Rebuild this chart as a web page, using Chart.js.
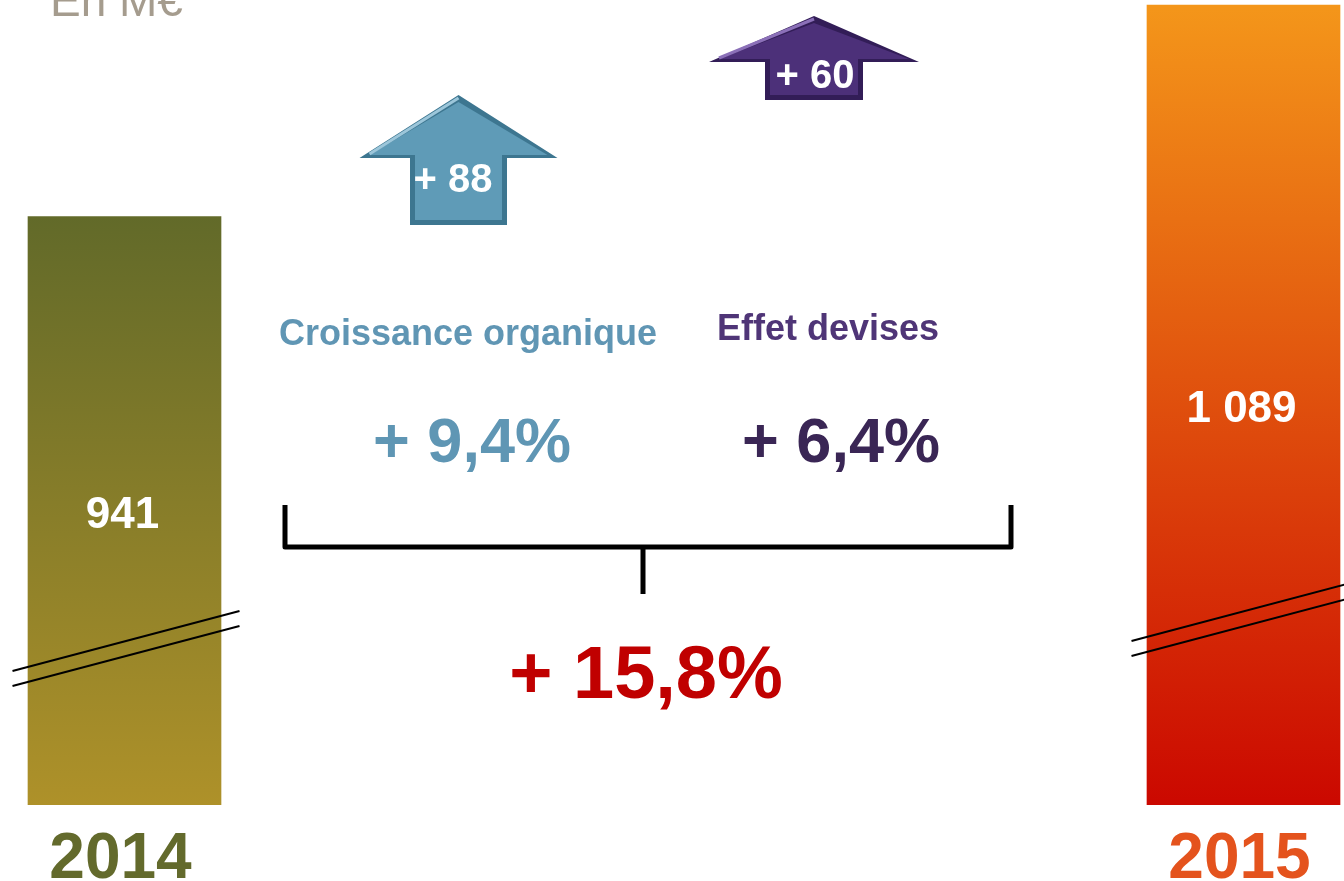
<!DOCTYPE html>
<html lang="fr">
<head>
<meta charset="utf-8">
<title>Chiffre d'affaires 2014 - 2015</title>
<script src="https://cdn.jsdelivr.net/npm/chart.js@4.4.1/dist/chart.umd.min.js"></script>
<style>
  html, body { margin: 0; padding: 0; background: #fff; overflow: hidden; }
  #wrap { position: relative; width: 1344px; height: 881px; }
</style>
</head>
<body>
<div id="wrap"><canvas id="chartCA" width="1344" height="881"></canvas></div>
<script>
// ── Data ─────────────────────────────────────────────────────
const years         = ['2014', '2015'];
const revenue       = [941, 1089];            // en M€
const revenueLabels = ['941', '1 089'];
const axisBreak     = 530;                    // base of the broken axis
const bridgeLabels  = ['Croissance organique', 'Effet devises'];
const bridgeValues  = [88, 60];
const bridgePct     = ['+ 9,4%', '+ 6,4%'];
const totalPct      = '+ 15,8%';
const unitLabel     = 'En M€';

// ── Colours ──────────────────────────────────────────────────
const yearColors  = ['#636a2c', '#e4531d'];
const barTop      = ['#626a29', '#f4961a'];
const barBottom   = ['#ae9129', '#cb0800'];
const bridgeColor = ['#6096b4', '#4f3577'];
const pctColor    = ['#5f96b4', '#3a2655'];
const FONT = '"Liberation Sans", Arial, sans-serif';

function text(c, str, x, y, size, color, weight = 'bold', align = 'center') {
  c.font = `${weight} ${size}px ${FONT}`;
  c.fillStyle = color;
  c.textAlign = align;
  c.textBaseline = 'alphabetic';
  c.fillText(str, x, y);
}

// up arrow with a simple bevel
function drawArrow(c, a) {
  const poly = inset => [
    [a.cx, a.apex + inset * 1.4],
    [a.cx + a.head - inset * 2, a.neck - inset * 0.6],
    [a.cx + a.shaft - inset, a.neck - inset * 0.6],
    [a.cx + a.shaft - inset, a.bottom - inset],
    [a.cx - a.shaft + inset, a.bottom - inset],
    [a.cx - a.shaft + inset, a.neck - inset * 0.6],
    [a.cx - a.head + inset * 2, a.neck - inset * 0.6]
  ];
  const fill = (pts, style) => {
    c.beginPath();
    pts.forEach((p, i) => i ? c.lineTo(p[0], p[1]) : c.moveTo(p[0], p[1]));
    c.closePath();
    c.fillStyle = style;
    c.fill();
  };
  fill(poly(0), a.dark);
  fill(poly(5), a.fill);
  c.beginPath();
  c.moveTo(a.cx, a.apex + 3);
  c.lineTo(a.cx - a.head + 10, a.neck - 4);
  c.strokeStyle = a.light;
  c.lineWidth = 3;
  c.stroke();
  text(c, '+ ' + a.value, a.tx, a.ty, 40, '#ffffff');
}

const overlay = {
  id: 'overlay',
  afterDatasetsDraw(chart) {
    const c = chart.ctx;
    const meta = chart.getDatasetMeta(0);
    const breakY = [[671, 686], [641, 656]];
    c.save();
    meta.data.forEach((bar, i) => {
      const mid = (bar.y + bar.base) / 2;
      text(c, revenueLabels[i], bar.x - 2, mid + 17, 44, '#ffffff');
      // axis break marks
      c.strokeStyle = '#000';
      c.lineWidth = 2;
      breakY[i].forEach(y0 => {
        c.beginPath();
        c.moveTo(bar.x - 112, y0);
        c.lineTo(bar.x + 115, y0 - 60);
        c.stroke();
      });
    });
    c.restore();
  },
  afterDraw(chart) {
    const c = chart.ctx;
    c.save();
    text(c, unitLabel, 50, 16, 46, '#a59c8e', 'normal', 'left');

    drawArrow(c, { cx: 458.5, apex: 95, neck: 158, head: 99, shaft: 48.5, bottom: 225,
      fill: '#5f9bb7', dark: '#3d7690', light: '#9cc6da', value: bridgeValues[0], tx: 453, ty: 192 });
    drawArrow(c, { cx: 814, apex: 16, neck: 62, head: 105, shaft: 49, bottom: 100,
      fill: '#4c3079', dark: '#321d57', light: '#8b70b8', value: bridgeValues[1], tx: 815, ty: 88 });

    text(c, bridgeLabels[0], 468, 345, 36, bridgeColor[0]);
    text(c, bridgeLabels[1], 828, 340, 36, bridgeColor[1]);
    text(c, bridgePct[0], 472, 462, 63, pctColor[0]);
    text(c, bridgePct[1], 841, 462, 63, pctColor[1]);

    // bracket
    c.strokeStyle = '#000';
    c.lineWidth = 5;
    c.lineJoin = 'round';
    c.beginPath();
    c.moveTo(285, 505); c.lineTo(285, 547); c.lineTo(1011, 547); c.lineTo(1011, 505);
    c.moveTo(643, 547); c.lineTo(643, 594);
    c.stroke();

    text(c, totalPct, 646, 698, 74, '#c00000');
    c.restore();
  }
};

new Chart(document.getElementById('chartCA'), {
  type: 'bar',
  data: {
    labels: years,
    datasets: [{
      data: revenue,
      base: axisBreak,
      barThickness: 193,
      clip: false,
      borderWidth: 0,
      backgroundColor: ctx => {
        const chart = ctx.chart;
        const i = ctx.dataIndex;
        if (!chart.chartArea) return barBottom[i];
        const yTop = chart.scales.y.getPixelForValue(revenue[i]);
        const g = chart.ctx.createLinearGradient(0, yTop, 0, chart.chartArea.bottom);
        g.addColorStop(0, barTop[i]);
        g.addColorStop(1, barBottom[i]);
        return g;
      }
    }]
  },
  options: {
    responsive: false,
    devicePixelRatio: 1,
    animation: false,
    layout: { padding: { left: 124.5, right: 100.5, top: 5, bottom: -36 } },
    plugins: { legend: { display: false }, tooltip: { enabled: false } },
    scales: {
      x: {
        offset: false,
        grid: { display: false, drawTicks: false },
        border: { display: false },
        ticks: {
          padding: 21,
          labelOffset: -4,
          color: c => yearColors[c.index],
          font: { family: FONT, size: 64, weight: 'bold', lineHeight: 1.1 }
        }
      },
      y: { display: false, min: axisBreak, max: Math.max(...revenue) }
    }
  },
  plugins: [overlay]
});
</script>
</body>
</html>
